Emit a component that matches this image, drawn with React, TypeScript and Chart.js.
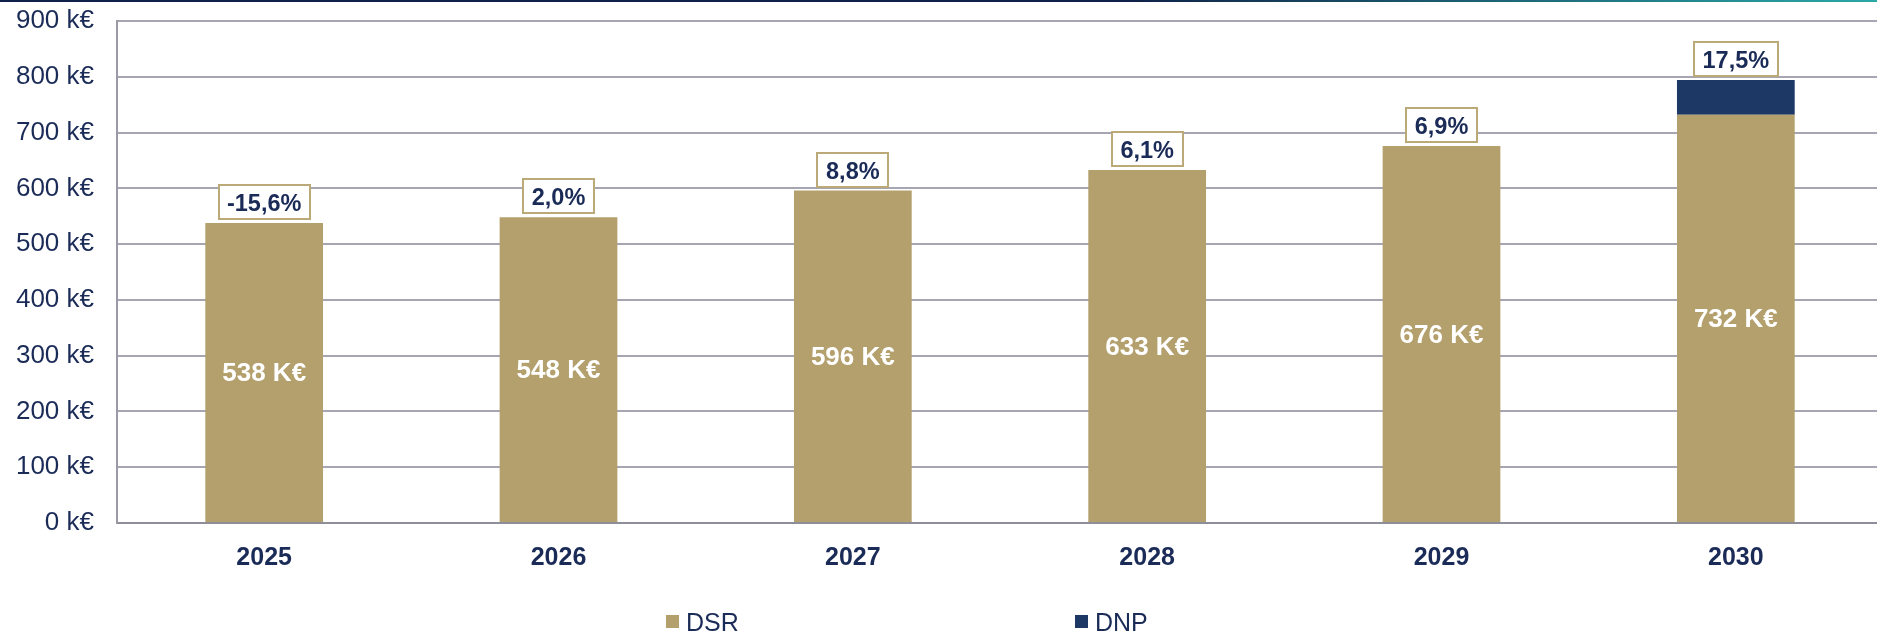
import React, { useEffect, useRef } from "react";
import { Chart, registerables } from "chart.js";

Chart.register(...registerables);

// ---- data ----
const categories = ["2025", "2026", "2027", "2028", "2029", "2030"];
const dsrValues = [538, 548, 596, 633, 676, 732];
const dnpValues = [0, 0, 0, 0, 0, 62];
const growthRates = [-15.6, 2.0, 8.8, 6.1, 6.9, 17.5];
const yTickValues = [0, 100, 200, 300, 400, 500, 600, 700, 800, 900];
const seriesNames = ["DSR", "DNP"];

// ---- styles ----
const GOLD = "#b3a06d";
const NAVY_BAR = "#1d3865";
const TEXT = "#1b2b57";
const BOX_BORDER = "#bba978";
const FONT = "'Liberation Sans', Arial, Helvetica, sans-serif";
const CANVAS_W = 1890;
const CANVAS_H = 632;
const PLOT_RIGHT = 1883;

const labelPlugin = {
  id: "barLabels",
  afterDatasetsDraw(chart: any) {
    const { ctx } = chart;
    const x = chart.scales.x;
    const y = chart.scales.y;
    ctx.save();
    ctx.textAlign = "center";
    ctx.textBaseline = "middle";
    categories.forEach((_, i) => {
      const cx = x.getPixelForValue(i);
      // value label inside DSR bar
      ctx.font = `bold 26px ${FONT}`;
      ctx.fillStyle = "#ffffff";
      ctx.fillText(`${dsrValues[i]} K€`, cx, y.getPixelForValue(dsrValues[i] / 2) + 1);
      // growth label box above the stack
      const total = dsrValues[i] + dnpValues[i];
      const top = y.getPixelForValue(total);
      const txt = growthRates[i].toFixed(1).replace(".", ",") + "%";
      ctx.font = `bold 23.5px ${FONT}`;
      const w = Math.round(ctx.measureText(txt).width + 19);
      const h = 36;
      const bx = Math.round(cx - w / 2);
      const by = Math.round(top - 3 - h);
      ctx.fillStyle = "#ffffff";
      ctx.fillRect(bx, by, w, h);
      ctx.strokeStyle = BOX_BORDER;
      ctx.lineWidth = 2;
      ctx.strokeRect(bx + 1, by + 1, w - 2, h - 2);
      ctx.fillStyle = TEXT;
      ctx.fillText(txt, cx, by + h / 2 + 2.5);
    });
    ctx.restore();
  },
};

export default function App() {
  const canvasRef = useRef<HTMLCanvasElement | null>(null);

  useEffect(() => {
    if (!canvasRef.current) return;
    const chart = new Chart(canvasRef.current, {
      type: "bar",
      data: {
        labels: categories,
        datasets: [
          {
            label: seriesNames[0],
            data: dsrValues,
            backgroundColor: GOLD,
            barPercentage: 1,
            categoryPercentage: 0.4,
          },
          {
            label: seriesNames[1],
            data: dnpValues,
            backgroundColor: NAVY_BAR,
            barPercentage: 1,
            categoryPercentage: 0.4,
          },
        ],
      },
      options: {
        animation: false,
        responsive: false,
        maintainAspectRatio: false,
        layout: { padding: { top: 21, right: CANVAS_W - PLOT_RIGHT, bottom: 0, left: 0 } },
        plugins: { legend: { display: false }, tooltip: { enabled: false } },
        scales: {
          x: {
            stacked: true,
            grid: { display: false },
            border: { display: true, color: "#8e8e9a", width: 2 },
            ticks: {
              color: TEXT,
              font: { family: FONT, size: 25, weight: "bold" },
              padding: 12,
            },
            afterFit: (s: any) => {
              s.height = 109;
              s.paddingLeft = 0;
              s.paddingRight = 0;
            },
          },
          y: {
            stacked: true,
            min: 0,
            max: 900,
            afterBuildTicks: (s: any) => {
              s.ticks = yTickValues.map((v) => ({ value: v }));
            },
            ticks: {
              color: TEXT,
              font: { family: FONT, size: 26 },
              padding: 23,
              callback: (v: any) => `${v} k€`,
            },
            grid: { color: "#a6a6b2", lineWidth: 2, drawTicks: false },
            border: { display: true, color: "#9a9aa6", width: 2 },
            afterFit: (s: any) => {
              s.width = 117;
              s.paddingTop = 0;
              s.paddingBottom = 0;
            },
          },
        },
      },
      plugins: [labelPlugin],
    } as any);
    return () => chart.destroy();
  }, []);

  const legendText: React.CSSProperties = {
    position: "absolute",
    top: 610,
    fontFamily: FONT,
    fontSize: 25,
    lineHeight: "25px",
    color: TEXT,
    whiteSpace: "nowrap",
  };
  const sq = (left: number, color: string): React.CSSProperties => ({
    position: "absolute",
    left,
    top: 615,
    width: 13,
    height: 13,
    background: color,
  });

  return (
    <div
      style={{
        position: "fixed",
        left: 0,
        top: 0,
        width: 1877,
        height: 632,
        overflow: "hidden",
        background: "#ffffff",
      }}
    >
      <canvas
        ref={canvasRef}
        width={CANVAS_W}
        height={CANVAS_H}
        style={{ display: "block", width: CANVAS_W, height: CANVAS_H }}
      />
      <div
        style={{
          position: "absolute",
          left: 0,
          top: 0,
          width: 1877,
          height: 2,
          background: "linear-gradient(to right, #0f2148 0%, #0f2148 60%, #2aa9a6 100%)",
        }}
      />
      <div style={sq(666, GOLD)} />
      <div style={{ ...legendText, left: 686 }}>{seriesNames[0]}</div>
      <div style={sq(1075, NAVY_BAR)} />
      <div style={{ ...legendText, left: 1095 }}>{seriesNames[1]}</div>
    </div>
  );
}
